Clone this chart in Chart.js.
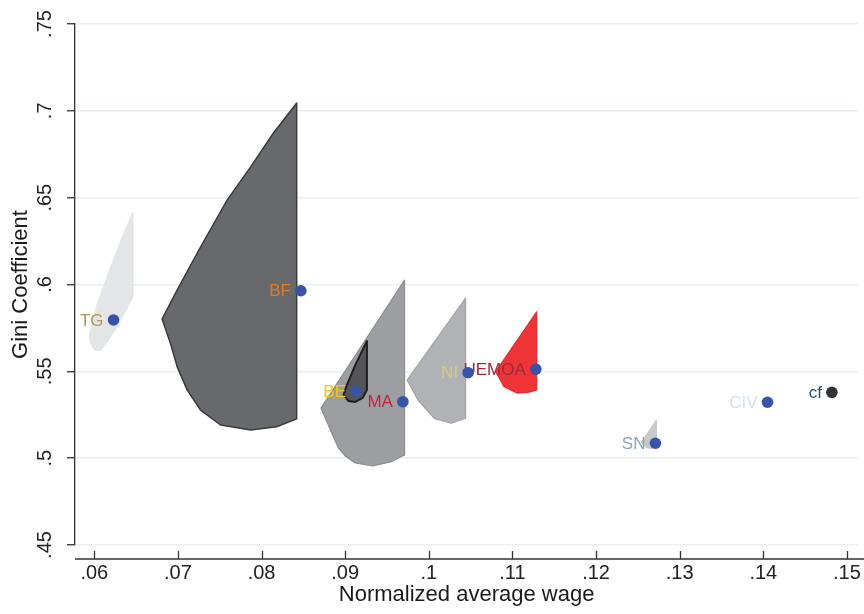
<!DOCTYPE html>
<html>
<head>
<meta charset="utf-8">
<script src="https://cdn.jsdelivr.net/npm/chart.js@4.4.1/dist/chart.umd.min.js"></script>
<style>
  body { margin: 0; background: #fff; }
  #wrap { width: 864px; height: 614px; }
</style>
</head>
<body>
<div id="wrap"><canvas id="giniChart" width="864" height="614"></canvas></div>
<script>
// tick values / labels
var xTickValues = [0.06, 0.07, 0.08, 0.09, 0.10, 0.11, 0.12, 0.13, 0.14, 0.15]
var xTickLabels = ['.06', '.07', '.08', '.09', '.1', '.11', '.12', '.13', '.14', '.15']
var yTickValues = [0.45, 0.50, 0.55, 0.60, 0.65, 0.70, 0.75]
var yTickLabels = ['.45', '.5', '.55', '.6', '.65', '.7', '.75']

// countries: average wage vs gini
var countryNames = ['TG', 'BF', 'BE', 'MA', 'NI', 'UEMOA', 'SN', 'CIV']
var countryWage = [0.0623, 0.0847, 0.0913, 0.0969, 0.1047, 0.1128, 0.1271, 0.1405]
var countryGini = [0.5796, 0.5964, 0.5387, 0.5325, 0.5492, 0.5513, 0.5086, 0.5322]
var labelColors = ['#ad9858', '#e27b1e', '#f4c80e', '#c62240', '#d8c97c', '#9c2b3d', '#8ea3b9', '#d5e1ea']

// counterfactual point
var cfWage = [0.1482]
var cfGini = [0.5379]

// shaded regions (outline of each area, wage / gini)
var tgAreaX = [0.0646, 0.0646, 0.0637, 0.0625, 0.0613, 0.0607, 0.0600, 0.0595, 0.0594, 0.0603, 0.0619, 0.0633, 0.0646]
var tgAreaY = [0.6418, 0.5928, 0.5842, 0.5738, 0.5652, 0.5617, 0.5623, 0.5663, 0.5709, 0.5882, 0.6095, 0.6268, 0.6418]

var bfAreaX = [0.0842, 0.0842, 0.0818, 0.0787, 0.0751, 0.0727, 0.0711, 0.0699, 0.0691, 0.0681, 0.0699, 0.0727, 0.0759, 0.0787, 0.0814, 0.0842]
var bfAreaY = [0.7045, 0.5226, 0.5181, 0.5162, 0.5191, 0.5277, 0.5393, 0.5527, 0.5661, 0.5801, 0.5968, 0.6216, 0.6487, 0.6677, 0.6871, 0.7045]

var maAreaX = [0.0971, 0.0971, 0.0954, 0.0933, 0.0912, 0.0900, 0.0892, 0.0886, 0.0871, 0.0971]
var maAreaY = [0.6026, 0.5018, 0.4978, 0.4955, 0.4972, 0.5013, 0.5059, 0.5122, 0.5289, 0.6026]

var beAreaX = [0.0926, 0.0926, 0.0921, 0.0912, 0.0904, 0.0898, 0.0902, 0.0912, 0.0926]
var beAreaY = [0.5675, 0.5393, 0.5347, 0.5324, 0.5329, 0.5364, 0.5421, 0.5536, 0.5675]

var niAreaX = [0.1044, 0.1044, 0.1027, 0.1007, 0.0987, 0.0974, 0.1044]
var niAreaY = [0.5921, 0.5230, 0.5201, 0.5227, 0.5335, 0.5450, 0.5921]

var uemoaAreaX = [0.1129, 0.1129, 0.1120, 0.1106, 0.1090, 0.1080, 0.1129]
var uemoaAreaY = [0.5843, 0.5393, 0.5380, 0.5374, 0.5412, 0.5498, 0.5843]

var snAreaX = [0.1272, 0.1272, 0.1267, 0.1260, 0.1254, 0.1272]
var snAreaY = [0.5220, 0.5075, 0.5055, 0.5060, 0.5090, 0.5220]

var FONT = "'Liberation Sans', Arial, Helvetica, sans-serif"

function toPoints(xs, ys) {
  return xs.map(function (x, i) {
    return { x: x, y: ys[i] }
  })
}

function areaDataset(xs, ys, fillColor, lineColor, lineWidth, order) {
  return {
    type: 'scatter',
    data: toPoints(xs, ys),
    showLine: true,
    fill: 'shape',
    backgroundColor: fillColor,
    borderColor: lineColor,
    borderWidth: lineWidth,
    borderJoinStyle: 'round',
    pointRadius: 0,
    tension: 0,
    order: order,
  }
}

var datasets = [
  areaDataset(tgAreaX, tgAreaY, '#e4e5e7', '#e4e5e7', 1, 20),
  areaDataset(bfAreaX, bfAreaY, '#68696c', '#3b3b3d', 1.5, 19),
  areaDataset(maAreaX, maAreaY, '#9d9ea1', '#8b8c8f', 1.2, 18),
  areaDataset(beAreaX, beAreaY, '#555557', '#1e1e1e', 2, 17),
  areaDataset(niAreaX, niAreaY, '#b1b2b5', '#a3a4a7', 1.2, 16),
  areaDataset(uemoaAreaX, uemoaAreaY, '#ef3438', '#e62a2f', 1.2, 15),
  areaDataset(snAreaX, snAreaY, '#c8c9cb', '#c8c9cb', 1, 14),
  {
    type: 'scatter',
    data: toPoints(countryWage, countryGini),
    backgroundColor: '#3953a9',
    borderWidth: 0,
    pointRadius: 5.8,
    order: 1,
  },
  {
    type: 'scatter',
    data: toPoints(cfWage, cfGini),
    backgroundColor: '#333333',
    borderWidth: 0,
    pointRadius: 5.8,
    order: 0,
  },
]
var DOTS_INDEX = 7

// marker labels, drawn under the dots but over the areas
var markerLabels = {
  id: 'markerLabels',
  beforeDatasetDraw: function (chart, args) {
    if (args.index !== DOTS_INDEX) return
    var ctx = chart.ctx
    var xs = chart.scales.x
    var ys = chart.scales.y
    ctx.save()
    ctx.font = '17px ' + FONT
    ctx.textAlign = 'right'
    ctx.textBaseline = 'middle'
    countryNames.forEach(function (name, i) {
      ctx.fillStyle = labelColors[i]
      ctx.fillText(name, xs.getPixelForValue(countryWage[i]) - 10, ys.getPixelForValue(countryGini[i]) + 1)
    })
    ctx.fillStyle = '#1f4d72'
    ctx.fillText('cf', xs.getPixelForValue(cfWage[0]) - 10, ys.getPixelForValue(cfGini[0]) + 1)
    ctx.restore()
  },
}

// x axis sits a little below the plot region
var xAxisLine = {
  id: 'xAxisLine',
  afterDraw: function (chart) {
    var ctx = chart.ctx
    var xs = chart.scales.x
    var yLine = chart.chartArea.bottom + 14
    ctx.save()
    ctx.strokeStyle = '#333'
    ctx.lineWidth = 1.3
    ctx.beginPath()
    ctx.moveTo(chart.chartArea.left, yLine)
    ctx.lineTo(chart.width, yLine)
    xTickValues.forEach(function (v) {
      var px = Math.round(xs.getPixelForValue(v)) + 0.5
      ctx.moveTo(px, yLine)
      ctx.lineTo(px, yLine - 8)
    })
    ctx.stroke()
    ctx.restore()
  },
}

new Chart(document.getElementById('giniChart'), {
  type: 'scatter',
  data: { datasets: datasets },
  options: {
    responsive: false,
    animation: false,
    devicePixelRatio: 1,
    layout: { padding: { top: 24, right: 2, left: 0, bottom: 0 } },
    plugins: {
      legend: { display: false },
      tooltip: { enabled: false },
    },
    scales: {
      x: {
        type: 'linear',
        min: 0.05769,
        max: 0.15135,
        afterBuildTicks: function (scale) {
          scale.ticks = xTickValues.map(function (v) {
            return { value: v }
          })
        },
        afterFit: function (scale) {
          scale.height = 69
          scale.paddingLeft = 0
          scale.paddingRight = 0
        },
        grid: { display: false },
        border: { display: false },
        ticks: {
          padding: 8,
          color: '#222',
          font: { family: FONT, size: 20 },
          maxRotation: 0,
          autoSkip: false,
          callback: function (value, index) {
            return xTickLabels[index]
          },
        },
        title: {
          display: true,
          text: 'Normalized average wage',
          color: '#1a1a1a',
          font: { family: FONT, size: 22 },
          padding: { top: 0, bottom: 6 },
        },
      },
      y: {
        type: 'linear',
        min: 0.45,
        max: 0.75,
        afterBuildTicks: function (scale) {
          scale.ticks = yTickValues.map(function (v) {
            return { value: v }
          })
        },
        afterFit: function (scale) {
          scale.width = 75
          scale.paddingTop = 0
          scale.paddingBottom = 0
        },
        grid: {
          color: '#e8f0f3',
          lineWidth: 1.5,
          drawTicks: true,
          tickLength: 8,
          tickColor: '#333',
          tickWidth: 1.3,
        },
        border: { display: true, color: '#333', width: 1.3 },
        ticks: {
          padding: 8,
          color: '#222',
          font: { family: FONT, size: 20 },
          minRotation: 90,
          maxRotation: 90,
          crossAlign: 'center',
          autoSkip: false,
          callback: function (value, index) {
            return yTickLabels[index]
          },
        },
        title: {
          display: true,
          text: 'Gini Coefficient',
          color: '#1a1a1a',
          font: { family: FONT, size: 22 },
          padding: { top: 8, bottom: 0 },
        },
      },
    },
  },
  plugins: [markerLabels, xAxisLine],
})
</script>
</body>
</html>
